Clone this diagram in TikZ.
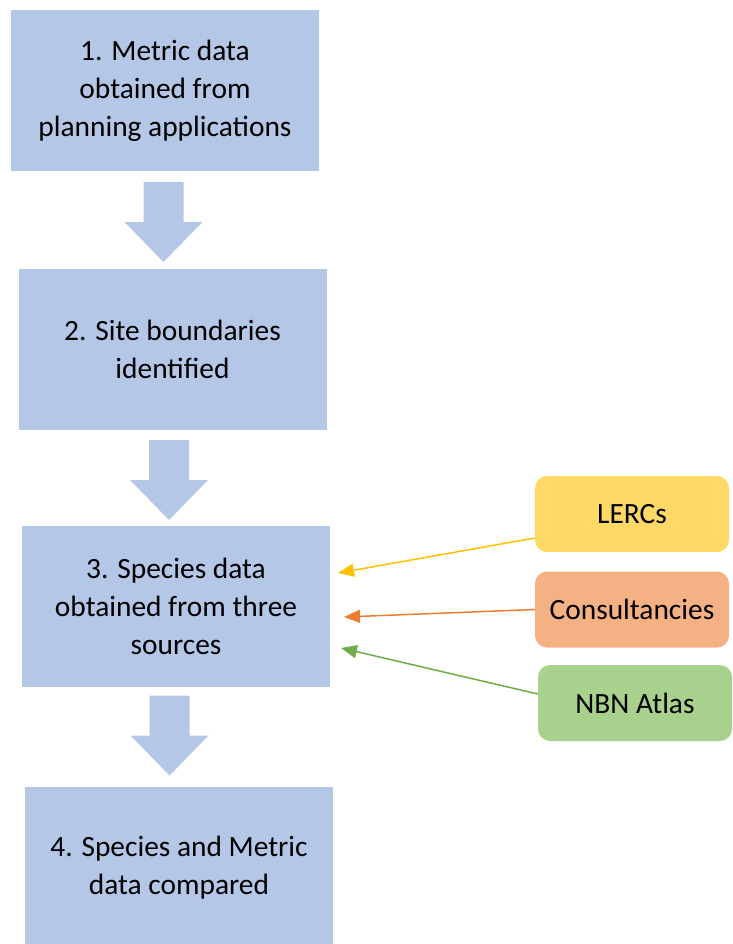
\documentclass[tikz,border=0pt]{standalone}
\usepackage{fontspec}
\setmainfont{Carlito}
\usetikzlibrary{arrows.meta, positioning}
\definecolor{cbox}{HTML}{B4C7E7}
\definecolor{cyellow}{HTML}{FFD966}
\definecolor{cyellowln}{HTML}{FFC000}
\definecolor{corange}{HTML}{F4B183}
\definecolor{corangeln}{HTML}{ED7D31}
\definecolor{cgreen}{HTML}{A9D18E}
\definecolor{cgreenln}{HTML}{70AD47}
\tikzset{
  every picture/.style={font=\fontsize{29.4}{38}\selectfont},
  stepbox/.style={fill=cbox, align=center, minimum width=308pt, minimum height=161pt, inner sep=0pt},
  source/.style={fill=#1, rounded corners=12pt, align=center, minimum width=194pt, minimum height=76pt, inner sep=0pt},
  feed/.style={-{Triangle[length=16pt, width=13pt]}, draw=#1, line width=1.5pt},
}

\begin{document}
\begin{tikzpicture}[x=1pt, y=-1pt]
  \useasboundingbox (0,0) rectangle (732,944);
  % the four steps, top to bottom
  \node[stepbox] (s1) at (165,90.5) {1. Metric data\\ obtained from\\ planning applications};
  \node[stepbox] (s2) at (172.5,349) {2. Site boundaries\\ identified};
  \node[stepbox] (s3) at (176,606.5) {3. Species data\\ obtained from three\\ sources};
  \node[stepbox] (s4) at (179,867.5) {4. Species and Metric\\ data compared};
  % block arrows between the steps (x, y of the middle)
  \foreach \x/\y in {163.5/222, 169/480, 169.5/735.5} {
    \fill[cbox] (\x-20,\y-40) -- (\x+20,\y-40) -- (\x+20,\y) -- (\x+39,\y)
      -- (\x,\y+40) -- (\x-39,\y) -- (\x-20,\y) -- cycle;
  }
  % data sources
  \node[source=cyellow] (lercs) at (632,514) {LERCs};
  \node[source=corange] (cons) at (632,609.5) {Consultancies};
  \node[source=cgreen] (nbn) at (635,703) {NBN Atlas};
  \coordinate (t1) at (338,573);
  \coordinate (t2) at (344,617);
  \coordinate (t3) at (341,648);
  \draw[feed=cyellowln] ([yshift=-24pt]lercs.west) -- (t1);
  \draw[feed=corangeln] (cons.west) -- (t2);
  \draw[feed=cgreenln] ([yshift=9pt]nbn.west) -- (t3);
\end{tikzpicture}
\end{document}
